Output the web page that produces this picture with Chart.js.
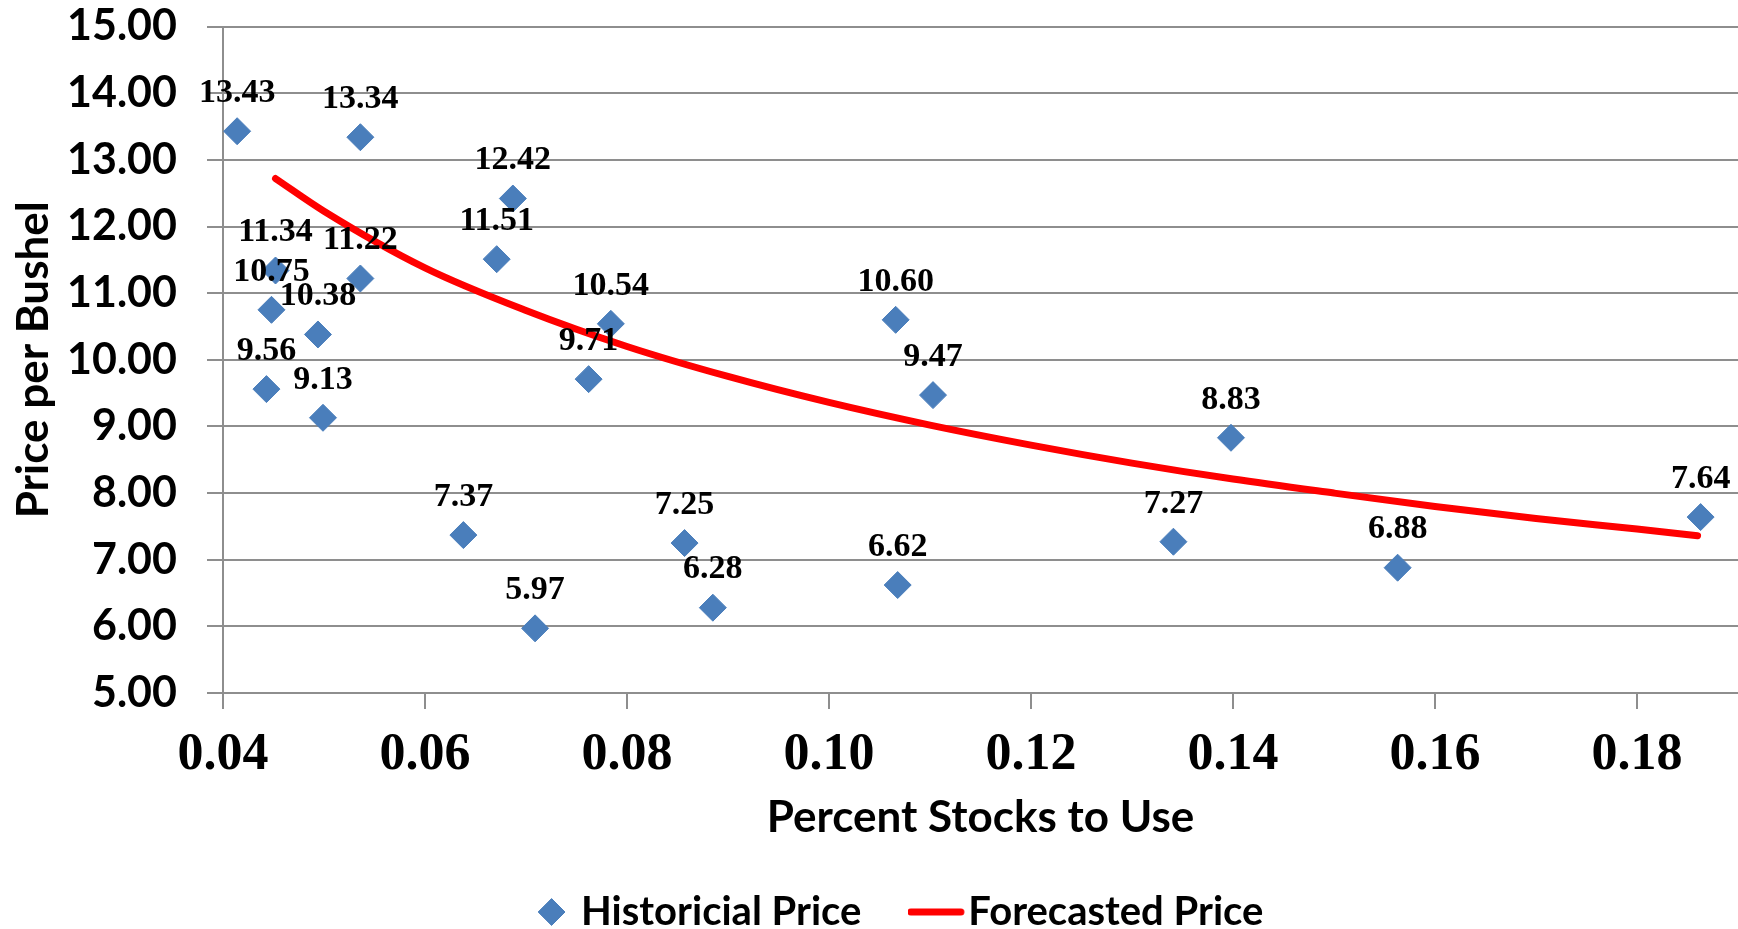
<!DOCTYPE html>
<html>
<head>
<meta charset="utf-8">
<title>Price per Bushel vs Percent Stocks to Use</title>
<script src="https://cdn.jsdelivr.net/npm/chart.js@4.4.1/dist/chart.umd.min.js"></script>
<style>
  html, body { margin: 0; padding: 0; background: #fff; }
  canvas { display: block; }
</style>
</head>
<body>
<canvas id="myChart" width="1738" height="929"></canvas>
<script>
// Historical points (stocks-to-use ratio, price)
const stocksToUse = [
  0.0414, 0.0536, 0.0687, 0.0671, 0.0452, 0.0536, 0.0448, 0.0494,
  0.0443, 0.0499, 0.0784, 0.0762, 0.0638, 0.0709, 0.0857, 0.0885,
  0.1068, 0.1066, 0.1103, 0.1341, 0.1398, 0.1563, 0.1863
]
const historicalPrice = [
  13.43, 13.34, 12.42, 11.51, 11.34, 11.22, 10.75, 10.38,
  9.56, 9.13, 10.54, 9.71, 7.37, 5.97, 7.25, 6.28,
  6.62, 10.60, 9.47, 7.27, 8.83, 6.88, 7.64
]

// Forecast curve
const forecastStocks = [0.0452, 0.05, 0.06, 0.07, 0.08, 0.09, 0.10, 0.11, 0.12, 0.13, 0.14, 0.15, 0.16, 0.17, 0.18, 0.186]
const forecastPrice = [12.72, 12.23, 11.38, 10.74, 10.20, 9.75, 9.36, 9.02, 8.72, 8.45, 8.21, 8.00, 7.80, 7.62, 7.46, 7.36]

const seriesNames = ['Historicial Price', 'Forecasted Price']
const xTitle = 'Percent Stocks to Use'
const yTitle = 'Price per Bushel'

const BLUE = '#4a7ebb'
const RED = '#ff0000'
const GRID = '#8e8e8e'
const SANS = 'Lato, "Open Sans", sans-serif'
const SERIF = '"Liberation Serif", "DejaVu Serif", serif'

// little red bar used as the legend symbol of the forecast line
const lineSwatch = document.createElement('canvas')
lineSwatch.width = 62
lineSwatch.height = 10
const sctx = lineSwatch.getContext('2d')
sctx.strokeStyle = RED
sctx.lineWidth = 7
sctx.lineCap = 'round'
sctx.beginPath()
sctx.moveTo(3, 5)
sctx.lineTo(53, 5)
sctx.stroke()

// value labels above the diamonds
const pointLabels = {
  id: 'pointLabels',
  afterDatasetsDraw(chart) {
    const meta = chart.getDatasetMeta(0)
    const ctx = chart.ctx
    ctx.save()
    ctx.font = 'bold 34px ' + SERIF
    ctx.fillStyle = '#000'
    ctx.textAlign = 'center'
    ctx.textBaseline = 'middle'
    meta.data.forEach((pt, i) => {
      ctx.fillText(historicalPrice[i].toFixed(2), pt.x, pt.y - 38)
    })
    ctx.restore()
  }
}

const ctx = document.getElementById('myChart')
// eslint-disable-next-line no-unused-vars
const myChart = new Chart(ctx, {
  type: 'scatter',
  data: {
    datasets: [
      {
        label: seriesNames[0],
        data: stocksToUse.map((x, i) => ({ x, y: historicalPrice[i] })),
        pointStyle: 'rectRot',
        pointRadius: 13.5,
        pointHoverRadius: 13.5,
        backgroundColor: BLUE,
        borderColor: BLUE,
        borderWidth: 1
      },
      {
        type: 'line',
        label: seriesNames[1],
        data: forecastStocks.map((x, i) => ({ x, y: forecastPrice[i] })),
        borderColor: RED,
        backgroundColor: RED,
        borderWidth: 7,
        borderCapStyle: 'round',
        pointRadius: 0,
        pointHoverRadius: 0,
        tension: 0.4,
        cubicInterpolationMode: 'monotone',
        fill: false
      }
    ]
  },
  options: {
    responsive: false,
    animation: false,
    layout: { autoPadding: false, padding: { top: 26.6, right: 0, bottom: -13, left: 0 } },
    scales: {
      x: {
        type: 'linear',
        min: 0.04,
        max: 0.19,
        afterFit(scale) {
          scale.height = 824 - 693
          scale.paddingLeft = 0
          scale.paddingRight = 0
        },
        ticks: {
          stepSize: 0.02,
          includeBounds: false,
          padding: 15,
          color: '#000',
          font: { family: SERIF, size: 52, weight: 'bold' },
          callback: (v) => v.toFixed(2)
        },
        grid: { drawOnChartArea: false, color: GRID, lineWidth: 2, tickLength: 16 },
        border: { color: GRID, width: 2 },
        title: {
          display: true,
          text: xTitle,
          color: '#000',
          font: { family: SANS, size: 44, weight: 'bold' },
          padding: { top: 0, bottom: -20 }
        }
      },
      y: {
        min: 5,
        max: 15,
        afterFit(scale) {
          scale.width = 223
          scale.paddingTop = 0
          scale.paddingBottom = 0
        },
        ticks: {
          stepSize: 1,
          padding: 30,
          color: '#000',
          font: { family: SANS, size: 43, weight: 'bold' },
          callback: (v) => v.toFixed(2)
        },
        grid: { color: GRID, lineWidth: 2, tickLength: 16 },
        border: { color: GRID, width: 2 },
        title: {
          display: true,
          text: yTitle,
          color: '#000',
          font: { family: SANS, size: 44, weight: 'bold' },
          padding: { top: 7, bottom: 0 }
        }
      }
    },
    plugins: {
      legend: {
        display: true,
        position: 'bottom',
        fullSize: false,
        labels: {
          usePointStyle: true,
          boxWidth: 19,
          boxHeight: 19,
          padding: 68,
          color: '#000',
          font: { family: SANS, size: 40, weight: 'bold' },
          generateLabels(chart) {
            const items = Chart.defaults.plugins.legend.labels.generateLabels(chart)
            items[1].pointStyle = lineSwatch
            // empty trailing entry, only there to nudge the row to the left
            items.push({
              text: '     ',
              fillStyle: 'rgba(0,0,0,0)',
              strokeStyle: 'rgba(0,0,0,0)',
              lineWidth: 0,
              pointStyle: 'circle',
              hidden: false,
              datasetIndex: -1
            })
            return items
          }
        }
      },
      tooltip: { enabled: false }
    }
  },
  plugins: [pointLabels]
})
</script>
</body>
</html>
